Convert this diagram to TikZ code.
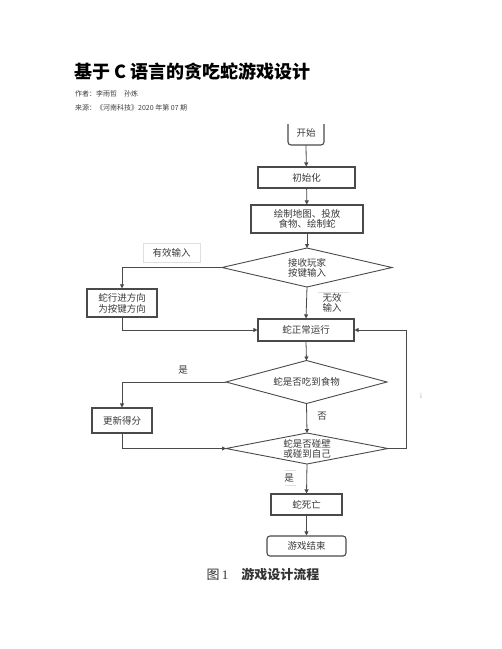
\documentclass[tikz,border=0pt]{standalone}
\usepackage{fontspec}
\setmainfont{Liberation Serif}
\newfontfamily\cjk{Noto Sans CJK SC}
\usetikzlibrary{arrows.meta}
\definecolor{ln}{HTML}{4A4A4A}
\definecolor{tx}{HTML}{3A3A3A}
\tikzset{
  box/.style={draw=ln, line width=1.1pt, rectangle, inner sep=0pt, font=\cjk\fontsize{9.5}{11}\selectfont, text=tx, align=center},
  rbox/.style={box, rounded corners=3pt},
  decline/.style={draw=ln, line width=0.9pt, line join=miter},
  lab/.style={font=\cjk\fontsize{9.5}{11}\selectfont, text=tx, align=center, inner sep=1pt},
  conn/.style={draw=ln, line width=0.8pt},
  arr/.style={conn, -{Triangle[length=4pt,width=4pt]}},
  faint/.style={draw=black!12, line width=0.5pt}
}
\begin{document}
\begin{tikzpicture}[x=1pt,y=-1pt]
\useasboundingbox[fill=white] (0,0) rectangle (502,649);
% header
\node[anchor=west, inner sep=0pt, font=\cjk\bfseries\fontsize{18}{20}\selectfont] (title) at (74,72) {基于 C 语言的贪吃蛇游戏设计};
\node[anchor=west, inner sep=0pt, font=\cjk\fontsize{7}{8}\selectfont, text=black!75] (author) at (75,94) {作者：李雨哲\quad 孙炼};
\node[anchor=west, inner sep=0pt, font=\cjk\fontsize{7}{8}\selectfont, text=black!75] (source) at (75,108) {来源：《河南科技》2020 年第 07 期};
% start box (top edge cut off)
\coordinate (sTL) at (288,124);
\coordinate (sTR) at (324,124);
\draw[draw=ln, line width=1.1pt, rounded corners=3pt] (sTL) -- (288,145) -- (324,145) -- (sTR);
\node[lab] (start) at (306,133) {开始};
\coordinate (startb) at (306,145);
% boxes
\node[box, minimum width=97pt, minimum height=21pt] (init) at (306.5,177.5) {初始化};
\node[box, minimum width=112pt, minimum height=28pt, font=\cjk\fontsize{9.5}{10}\selectfont] (draw) at (307,219) {绘制地图、投放\\食物、绘制蛇};
\node[box, minimum width=70pt, minimum height=28pt, line width=1.4pt] (dir) at (122,303) {蛇行进方向\\为按键方向};
\node[box, minimum width=96pt, minimum height=22pt] (run) at (306,330) {蛇正常运行};
\node[box, minimum width=60pt, minimum height=25pt] (score) at (122,420.5) {更新得分};
\node[box, minimum width=71pt, minimum height=21pt] (die) at (306.5,504.5) {蛇死亡};
\node[rbox, minimum width=79pt, minimum height=20pt] (end) at (306.5,546) {游戏结束};
% diamond 1
\coordinate (inpN) at (307,248);
\coordinate (inpS) at (307,287);
\coordinate (inpW) at (222,267.5);
\coordinate (inpE) at (392,267.5);
\draw[decline] (inpN) -- (inpE) -- (inpS) -- (inpW) -- cycle;
\node[lab, font=\cjk\fontsize{9.5}{10.5}\selectfont] (inp) at (307,268) {接收玩家\\按键输入};
% diamond 2
\coordinate (eatN) at (306.5,360.5);
\coordinate (eatS) at (306.5,403.5);
\coordinate (eatW) at (226,382);
\coordinate (eatE) at (387,382);
\draw[decline] (eatN) -- (eatE) -- (eatS) -- (eatW) -- cycle;
\node[lab] (eat) at (306.5,382) {蛇是否吃到食物};
% diamond 3
\coordinate (hitN) at (307,433);
\coordinate (hitS) at (307,464);
\coordinate (hitW) at (226,448.5);
\coordinate (hitE) at (388,448.5);
\draw[decline] (hitN) -- (hitE) -- (hitS) -- (hitW) -- cycle;
\node[lab, font=\cjk\fontsize{9.5}{10.5}\selectfont] (hit) at (307,449) {蛇是否碰壁\\或碰到自己};
% labels
\draw[faint] (143,243) rectangle (200,262);
\node[lab] (valid) at (171.5,252.5) {有效输入};
\draw[faint] (318,292) -- (349,292);
\node[lab, font=\cjk\fontsize{9.5}{10.5}\selectfont] (invalid) at (332,303) {无效\\输入};
\node[lab] (yes1) at (183,370) {是};
\node[lab] (no1) at (322,416) {否};
\node[lab] (yes2) at (289,478) {是};
\draw[faint] (285,470) -- (296,470);
\draw[faint] (285,485) -- (296,485);
\node[font=\fontsize{7}{8}\selectfont, text=black!35, inner sep=0pt] (tick) at (421,396) {ì};
% connectors
\draw[arr] (startb) -- (init);
\draw[arr] (init) -- (draw);
\draw[arr] (draw) -- (inpN);
\draw[arr] (inpW) -| (dir.north);
\draw[arr] (dir.south) |- (run.west);
\draw[arr] (inpS) -- (run.north);
\draw[arr] (run.south) -- (eatN);
\draw[arr] (eatW) -| (score.north);
\draw[arr] (score.south) |- (hitW);
\draw[arr] (eatS) -- (hitN);
\coordinate (fb) at (406,448.5);
\draw[arr] (hitE) -- (fb) |- (run.east);
\draw[arr] (hitS) -- (die.north);
\draw[arr] (die.south) -- (end.north);
% caption
\node[inner sep=0pt, font=\fontsize{13}{15}\selectfont, text=black!80] (cap) at (263,574) {{\cjk 图}\,1\quad{\cjk\bfseries 游戏设计流程}};
\end{tikzpicture}
\end{document}
